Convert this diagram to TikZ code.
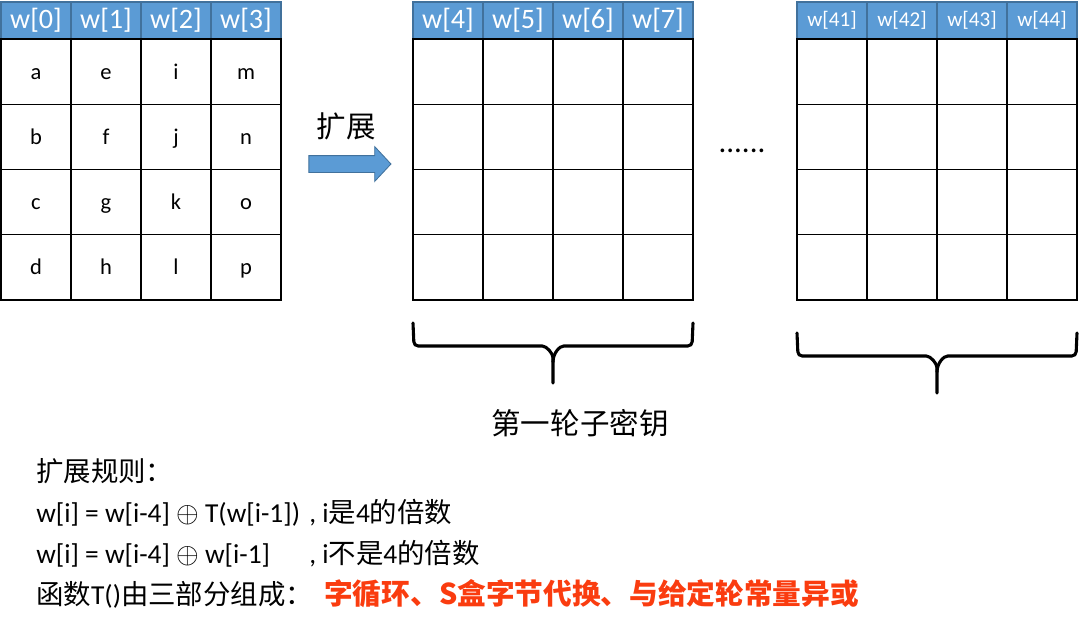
\documentclass[tikz,border=0pt]{standalone}
\usepackage{fontspec}
\setmainfont{Carlito}
\newfontfamily\cjk{Noto Sans CJK SC}
\usetikzlibrary{positioning,shapes.arrows}

\definecolor{hdrblue}{RGB}{91,155,213}
\definecolor{hdrline}{RGB}{65,113,156}
\definecolor{rulered}{RGB}{250,60,15}

\newcommand{\xorop}{{\fontsize{21}{21}\selectfont$\oplus$}}

\begin{document}
\begin{tikzpicture}
	[x=0.025cm,y=-0.025cm,
		hdr/.style={rectangle,fill=hdrblue,draw=hdrline,line width=0.8pt,text=white,inner
		sep=0pt,minimum width=1.75cm,minimum height=0.925cm,font=\fontsize{20}{20}\selectfont},
		cell/.style={rectangle,draw=black,line width=1pt,inner sep=0pt,minimum
		width=1.75cm,minimum height=1.63cm,text height=10.6pt,text depth=0pt,
		font=\fontsize{16}{16}\selectfont},
		bracepath/.style={line width=2.2pt,line cap=round,rounded corners=3pt},
		ruletext/.style={inner sep=0pt,anchor=base west,font=\fontsize{19.5}{19.5}\selectfont}]
	\useasboundingbox (0,0) rectangle (1080,619);

	% w[0]..w[3]
	\foreach \c/\letters in {0/{a,b,c,d},1/{e,f,g,h},2/{i,j,k,l},3/{m,n,o,p}}{
		\node[hdr] (s-h\c) at ({36+70*\c},20.5) {w[\c]};
		\foreach \t [count=\r] in \letters
			\node[cell] (s-\c-\r) at ({36+70*\c},{6.35+65.25*\r}) {\t};
	}

	% w[4]..w[7]
	\foreach \c [evaluate=\c as \n using int(\c+4)] in {0,...,3}{
		\node[hdr] (k1-h\c) at ({448+70*\c},20.5) {w[\n]};
		\foreach \r in {1,...,4}
			\node[cell] (k1-\c-\r) at ({448+70*\c},{6.35+65.25*\r}) {};
	}

	% w[41]..w[44]
	\foreach \c [evaluate=\c as \n using int(\c+41)] in {0,...,3}{
		\node[hdr,font=\fontsize{15}{15}\selectfont] (k10-h\c) at ({832+70*\c},20.5) {w[\n]};
		\foreach \r in {1,...,4}
			\node[cell] (k10-\c-\r) at ({832+70*\c},{6.35+65.25*\r}) {};
	}

	\node[single arrow,fill=hdrblue,draw=hdrline,line width=0.6pt,inner xsep=0pt,
		inner ysep=0.2cm,minimum height=2.05cm,single arrow head extend=0.225cm,
		single arrow tip angle=94] (expand) at (346,164) {};
	\node[font=\cjk\fontsize{21}{21}\selectfont] (expandlabel) at (346,126) {扩展};

	\node[font=\fontsize{22}{22}\selectfont] (dots) at (742,151) {......};

	% braces
	\coordinate (b1tip) at (553,383);
	\draw[bracepath] (413,323) -- (414,346) -- (538,346) to[out=0,in=90] (553,362) -- (b1tip);
	\draw[bracepath] (693,323) -- (692,346) -- (568,346) to[out=180,in=90] (553,362);
	\node[font=\cjk\fontsize{21}{21}\selectfont] (roundkey) at (580,423) {第一轮子密钥};

	\coordinate (b2tip) at (937,393);
	\draw[bracepath] (797,333) -- (798,356) -- (922,356) to[out=0,in=90] (937,372) -- (b2tip);
	\draw[bracepath] (1077,333) -- (1076,356) -- (952,356) to[out=180,in=90] (937,372);

	% expansion rule
	\node[ruletext] (rule0) at (36,481) {{\cjk 扩展规则：}};
	\node[ruletext] (rule1) at (36,522) {w[i] = w[i-4] \xorop{} T(w[i-1])};
	\node[ruletext] (rule1b) at (309,522) {, i{\cjk 是}4{\cjk 的倍数}};
	\node[ruletext] (rule2) at (36,563) {w[i] = w[i-4] \xorop{} w[i-1]};
	\node[ruletext] (rule2b) at (309,563) {, i{\cjk 不是}4{\cjk 的倍数}};
	\node[ruletext] (rule3) at (36,604) {{\cjk 函数}T(){\cjk 由三部分组成：}};
	\node[ruletext,text=rulered,font=\cjk\bfseries\fontsize{20.4}{20.4}\selectfont] (rule3b)
		at (324,604) {字循环、S盒字节代换、与给定轮常量异或};

\end{tikzpicture}
\end{document}
